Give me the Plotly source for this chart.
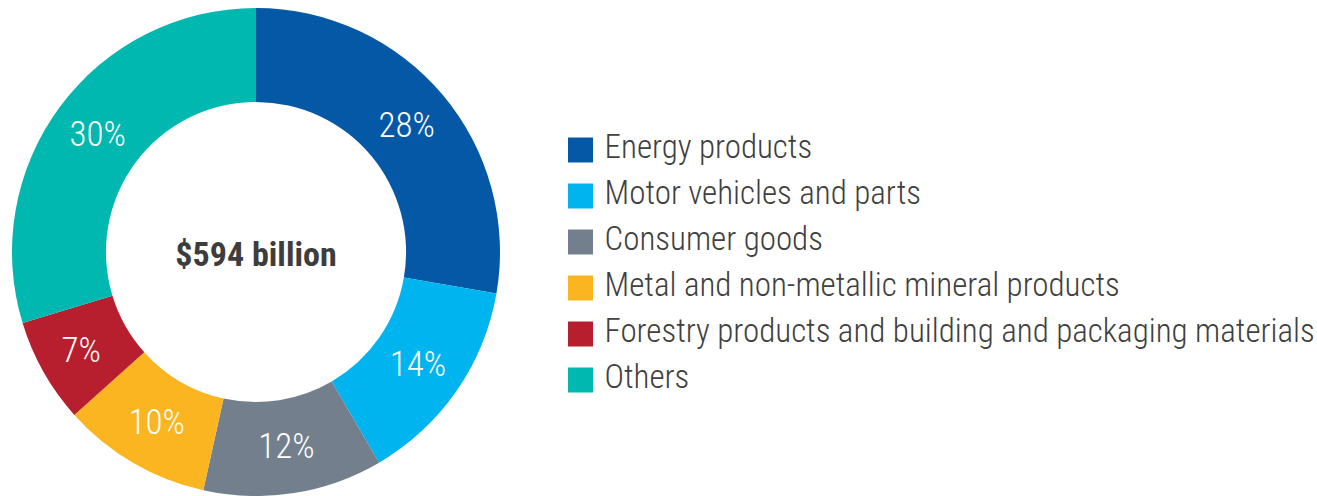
import plotly.graph_objects as go

categories = ["Energy products", "Motor vehicles and parts", "Consumer goods",
              "Metal and non-metallic mineral products",
              "Forestry products and building and packaging materials", "Others"]
shares = [28, 14, 12, 10, 7, 30]
share_labels = ["28%", "14%", "12%", "10%", "7%", "30%"]
colors = ["#0558A6", "#00B5EF", "#737F8C", "#FBB520", "#B71F2E", "#00B8AF"]
total_label = "$594 billion"

FONT = "Roboto Condensed, Roboto, sans-serif"
W, H = 1317, 496

fig = go.Figure()

fig.add_trace(go.Pie(
    values=shares,
    labels=categories,
    text=share_labels,
    texttemplate="%{text}",
    textinfo="text",
    textposition="inside",
    insidetextorientation="horizontal",
    textfont=dict(family=FONT, size=35, color="white", weight=300),
    marker=dict(colors=colors, line=dict(width=0)),
    hole=0.615,
    sort=False,
    direction="clockwise",
    rotation=0,
    showlegend=False,
    hoverinfo="label+text",
    domain=dict(x=[12 / W, 500 / W], y=[0, 488 / H]),
    title=dict(text="<b>" + total_label + "</b>", position="middle center",
               font=dict(family=FONT, size=34, color="#3d3d3d")),
))

# custom legend built from the category list (large square swatches)
fig.add_trace(go.Scatter(
    x=[0] * len(categories),
    y=categories,
    mode="markers+text",
    marker=dict(symbol="square", size=25, color=colors, line=dict(width=0)),
    text=[" " + c for c in categories],
    textposition="middle right",
    textfont=dict(family=FONT, size=33, color="#404040", weight=300),
    cliponaxis=False,
    showlegend=False,
    hoverinfo="skip",
    xaxis="x", yaxis="y",
))

fig.update_layout(
    width=W, height=H,
    margin=dict(l=0, r=0, t=0, b=0),
    paper_bgcolor="white",
    plot_bgcolor="rgba(0,0,0,0)",
    xaxis=dict(domain=[580.5 / W, 1], range=[0, 1], visible=False, fixedrange=True),
    yaxis=dict(domain=[(H - 403) / H, (H - 127) / H], type="category",
               categoryorder="array", categoryarray=categories,
               range=[len(categories) - 0.5, -0.5], visible=False, fixedrange=True),
)

fig.write_html("out.html")
